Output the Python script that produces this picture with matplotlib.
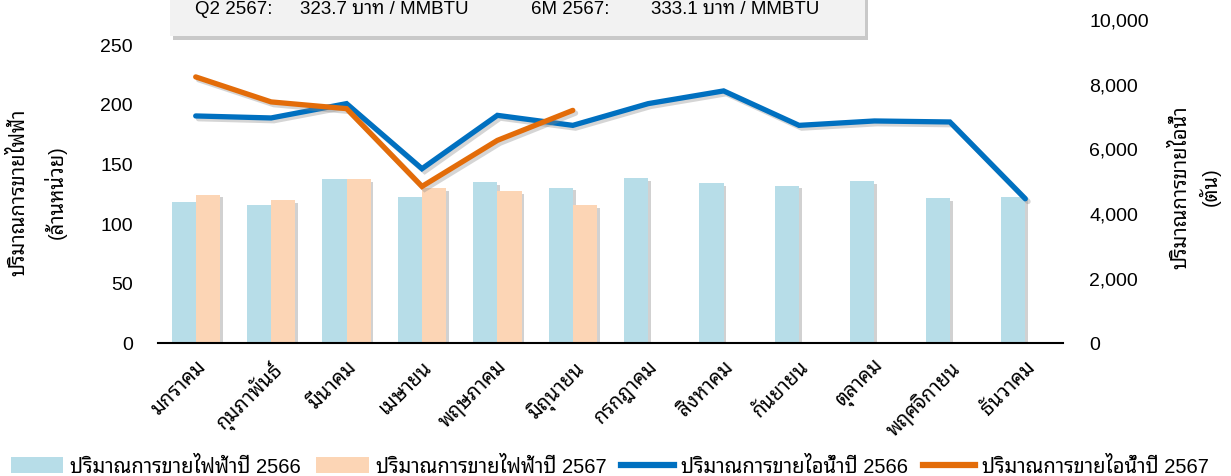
import matplotlib
matplotlib.use("Agg")
import matplotlib.pyplot as plt
import matplotlib.patheffects as pe
import numpy as np
from matplotlib.patches import Patch, FancyBboxPatch
from matplotlib.lines import Line2D
from matplotlib.ticker import FuncFormatter

plt.rcParams['font.family'] = ['Liberation Sans', 'Noto Sans Thai Looped', 'IBM Plex Sans Thai Looped', 'Sarabun', 'DejaVu Sans']

months = ['มกราคม', 'กุมภาพันธ์', 'มีนาคม', 'เมษายน', 'พฤษภาคม', 'มิถุนายน',
          'กรกฎาคม', 'สิงหาคม', 'กันยายน', 'ตุลาคม', 'พฤศจิกายน', 'ธันวาคม']
# electricity sales (million units), left axis
elec_2566 = [118.0, 115.3, 136.8, 122.0, 134.3, 129.8, 137.6, 133.7, 131.4, 135.4, 121.1, 122.2]
elec_2567 = [123.9, 119.4, 137.0, 129.3, 127.0, 115.3]
# steam sales (tons), right axis
steam_2566 = [7003, 6941, 7384, 5372, 7022, 6712, 7384, 7777, 6712, 6848, 6817, 4443]
steam_2567 = [8210, 7437, 7229, 4824, 6248, 7176]

labels = ['ปริมาณการขายไฟฟ้าปี 2566', 'ปริมาณการขายไฟฟ้าปี 2567',
          'ปริมาณการขายไอน้ำปี 2566', 'ปริมาณการขายไอน้ำปี 2567']

c_bar1 = '#b7dde8'
c_bar2 = '#fcd5b5'
c_line1 = '#0070c0'
c_line2 = '#e36c09'

W, H = 1231, 477
fig = plt.figure(figsize=(W/100, H/100), dpi=100)
ax = fig.add_axes([158/W, (H-343.5)/H, (1063-158)/W, (343.5-20)/H])
ax2 = ax.twinx()

x = np.arange(len(months))
w = 0.32
bar_shadow = [pe.SimplePatchShadow(offset=(2, -2), shadow_rgbFace='#999999', alpha=0.45), pe.Normal()]
ax.bar(x[:len(elec_2566)] - w/2, elec_2566, w, color=c_bar1, path_effects=bar_shadow, zorder=2)
ax.bar(x[:len(elec_2567)] + w/2, elec_2567, w, color=c_bar2, path_effects=bar_shadow, zorder=2)

line_shadow = [pe.SimpleLineShadow(offset=(2, -2), shadow_color='#888888', alpha=0.35), pe.Normal()]
ax2.plot(x[:len(steam_2566)], steam_2566, color=c_line1, lw=3.8, solid_capstyle='round',
         solid_joinstyle='miter', path_effects=line_shadow)
ax2.plot(x[:len(steam_2567)], steam_2567, color=c_line2, lw=3.8, solid_capstyle='round',
         solid_joinstyle='miter', path_effects=line_shadow)

ax.set_xlim(-0.5, len(months) - 0.5)
ax.set_ylim(0, 271)
ax.set_yticks([0, 50, 100, 150, 200, 250])
ax2.set_ylim(0, 10000)
ax2.set_yticks([0, 2000, 4000, 6000, 8000, 10000])
ax2.yaxis.set_major_formatter(FuncFormatter(lambda v, p: f'{int(v):,}'))

for a in (ax, ax2):
    for s in ['top', 'left', 'right']:
        a.spines[s].set_visible(False)
    a.tick_params(axis='y', length=0, labelsize=14, colors='#000000')
ax2.spines['bottom'].set_visible(False)
ax.spines['bottom'].set_linewidth(1.5)
ax.spines['bottom'].set_color('black')
ax.tick_params(axis='y', pad=18)
ax2.tick_params(axis='y', pad=19)

ax.set_xticks(x)
ax.set_xticklabels(months, rotation=45, ha='right', rotation_mode='anchor', fontsize=14.5)
ax.tick_params(axis='x', length=0, pad=10)

# axis titles
fig.text(18/W, 1 - 192/H, 'ปริมาณการขายไฟฟ้า', rotation=90, ha='center', va='center', fontsize=14.5)
fig.text(55/W, 1 - 192/H, '(ล้านหน่วย)', rotation=90, ha='center', va='center', fontsize=14.5)
fig.text(1180/W, 1 - 187/H, 'ปริมาณการขายไอน้ำ', rotation=90, ha='center', va='center', fontsize=14.5)
fig.text(1210/W, 1 - 187/H, '(ตัน)', rotation=90, ha='center', va='center', fontsize=14.5)

# info box at top
box = FancyBboxPatch((170/W, 1 - 37/H), (865-170)/W, 60/H,
                     boxstyle='square,pad=0', transform=fig.transFigure,
                     facecolor='#f2f2f2', edgecolor='none', zorder=5,
                     path_effects=[pe.SimplePatchShadow(offset=(2, -3), shadow_rgbFace='#888888', alpha=0.45), pe.Normal()])
fig.patches.append(box)
ty = 1 - 14/H
fig.text(195/W, ty, 'Q2 2567:', fontsize=13.5, va='baseline', zorder=6)
fig.text(300/W, ty, '323.7 บาท / MMBTU', fontsize=13.5, va='baseline', zorder=6)
fig.text(531/W, ty, '6M 2567:', fontsize=13.5, va='baseline', zorder=6)
fig.text(651/W, ty, '333.1 บาท / MMBTU', fontsize=13.5, va='baseline', zorder=6)

handles = [Patch(facecolor=c_bar1), Patch(facecolor=c_bar2),
           Line2D([0], [0], color=c_line1, lw=4.5), Line2D([0], [0], color=c_line2, lw=4.5)]
fig.legend(handles, labels, loc='center', bbox_to_anchor=(610/W, 1 - 467/H), ncol=4,
           frameon=False, fontsize=14.5, handlelength=2.6, handleheight=0.8,
           columnspacing=0.75, handletextpad=0.35, borderpad=0, borderaxespad=0)

fig.savefig('out.png', dpi=100)
